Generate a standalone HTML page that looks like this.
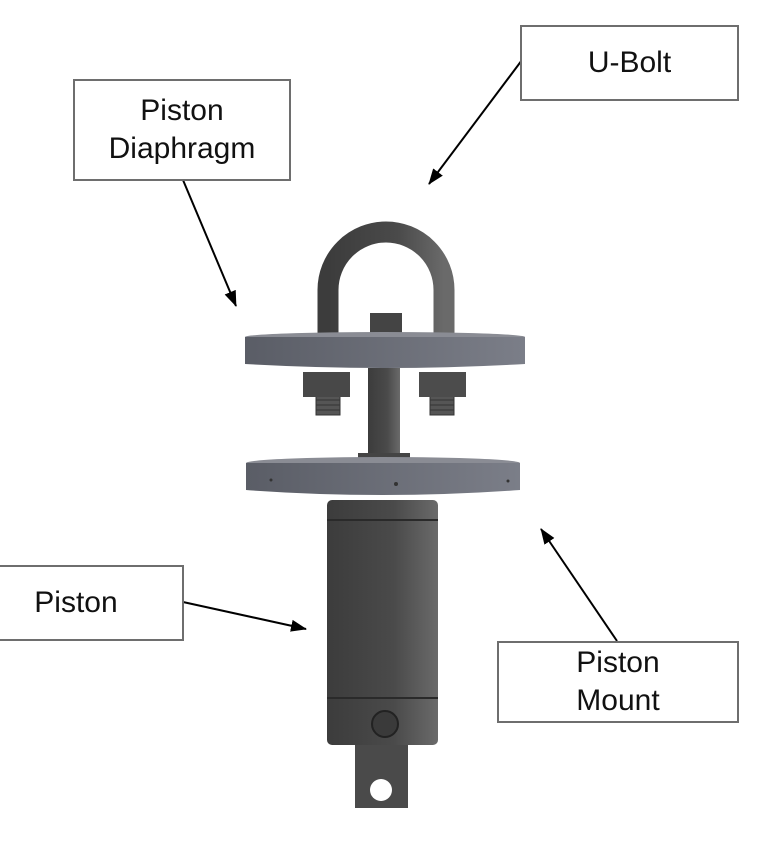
<!DOCTYPE html>
<html><head><style>
body{margin:0;background:#fff;width:762px;height:852px;overflow:hidden;font-family:"Liberation Sans",sans-serif}
.b{position:absolute;border:2px solid #6e6e6e;background:#fff;box-sizing:border-box;display:flex;align-items:center;justify-content:center;text-align:center;font-size:30px;line-height:38px;color:#111}
</style></head><body>
<svg width="762" height="852" style="position:absolute;left:0;top:0">
<defs>
<linearGradient id="g" x1="0" x2="1"><stop offset="0" stop-color="#3c3c3c"/><stop offset="0.6" stop-color="#4a4a4a"/><stop offset="1" stop-color="#6a6a6a"/></linearGradient>
<linearGradient id="d" x1="0" x2="1"><stop offset="0" stop-color="#5a5d66"/><stop offset="1" stop-color="#7b7e88"/></linearGradient>
<marker id="a" markerWidth="16" markerHeight="14" refX="15" refY="7" orient="auto" markerUnits="userSpaceOnUse"><path d="M0,1 L16,7 L0,13z" fill="#000"/></marker>
</defs>
<path d="M328,335 V290 A58,58 0 0 1 444,290 V335" fill="none" stroke="url(#g)" stroke-width="21"/>
<rect x="370" y="313" width="32" height="24" fill="#444"/>
<ellipse cx="385" cy="337" rx="140" ry="5" fill="#8a8c94"/>
<path d="M245,337 H525 V364 Q385,372 245,364z" fill="url(#d)"/>
<g stroke="#333" stroke-width="1">
<rect x="316" y="395" width="24" height="20" fill="#555"/>
<rect x="430" y="395" width="24" height="20" fill="#555"/>
<path d="M316,400H340M316,405H340M316,410H340M430,400H454M430,405H454M430,410H454"/>
</g>
<rect x="303" y="372" width="47" height="25" fill="#484848"/>
<rect x="419" y="372" width="47" height="25" fill="#4c4c4c"/>
<rect x="368" y="368" width="32" height="92" fill="url(#g)"/>
<rect x="358" y="453" width="52" height="10" fill="#444"/>
<ellipse cx="383" cy="463" rx="137" ry="6" fill="#8a8c94"/>
<path d="M246,463 H520 V490 Q383,500 246,490z" fill="url(#d)"/>
<circle cx="271" cy="480" r="1.5" fill="#333"/><circle cx="396" cy="484" r="2" fill="#333"/><circle cx="508" cy="481" r="1.5" fill="#333"/>
<rect x="327" y="500" width="111" height="245" rx="5" fill="url(#g)"/>
<line x1="327" y1="520" x2="438" y2="520" stroke="#2a2a2a" stroke-width="2"/>
<line x1="327" y1="698" x2="438" y2="698" stroke="#2a2a2a" stroke-width="2"/>
<circle cx="385" cy="724" r="13" fill="#3a3a3a" stroke="#222" stroke-width="2"/>
<rect x="355" y="745" width="53" height="63" fill="#4a4a4a"/>
<circle cx="381" cy="790" r="11" fill="#fff"/>
<g stroke="#000" stroke-width="2" fill="none" marker-end="url(#a)">
<line x1="183" y1="180" x2="236" y2="306"/>
<line x1="522" y1="60" x2="429" y2="184"/>
<line x1="183" y1="602" x2="306" y2="629"/>
<line x1="617" y1="641" x2="541" y2="529"/>
</g>
</svg>
<div class="b" style="left:73px;top:79px;width:218px;height:102px">Piston<br>Diaphragm</div>
<div class="b" style="left:520px;top:25px;width:219px;height:76px">U-Bolt</div>
<div class="b" style="left:-2px;top:565px;width:186px;height:76px;padding-right:30px">Piston</div>
<div class="b" style="left:497px;top:641px;width:242px;height:82px">Piston<br>Mount</div>
</body></html>
